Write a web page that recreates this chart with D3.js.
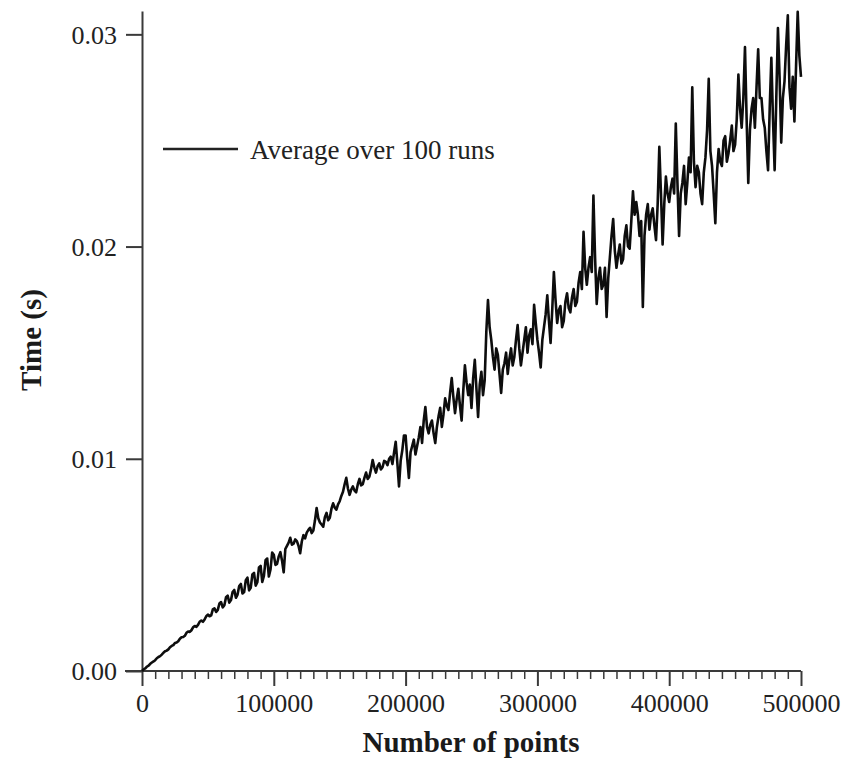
<!DOCTYPE html>
<html>
<head>
<meta charset="utf-8">
<script src="https://cdn.jsdelivr.net/npm/d3@7"></script>
<style>
  html, body { margin: 0; padding: 0; background: #fff; }
  svg { display: block; }
</style>
</head>
<body>
<svg id="chart" width="857" height="760"></svg>
<script>
// ---- Data ----
const xStep = 1250;            // one point every 1250
const xTicks = [0, 100000, 200000, 300000, 400000, 500000];
const yTicks = [0, 0.01, 0.02, 0.03];
const legendLabel = "Average over 100 runs";
const xTitle = "Number of points";
const yTitle = "Time (s)";
const times = [
  0.00000, 0.00008, 0.00012, 0.00021, 0.00025, 0.00034, 0.00040, 0.00045, 0.00051, 0.00060, 0.00066, 0.00070, 0.00077, 0.00086, 0.00093, 0.00096, 0.00102, 0.00112, 0.00118, 0.00122,
  0.00132, 0.00134, 0.00140, 0.00152, 0.00159, 0.00160, 0.00166, 0.00180, 0.00186, 0.00184, 0.00192, 0.00206, 0.00212, 0.00208, 0.00217, 0.00232, 0.00238, 0.00232, 0.00243, 0.00258,
  0.00266, 0.00258, 0.00262, 0.00290, 0.00295, 0.00278, 0.00288, 0.00318, 0.00325, 0.00300, 0.00310, 0.00348, 0.00355, 0.00322, 0.00334, 0.00372, 0.00382, 0.00345, 0.00360, 0.00400,
  0.00410, 0.00365, 0.00372, 0.00428, 0.00440, 0.00380, 0.00392, 0.00455, 0.00462, 0.00402, 0.00418, 0.00488, 0.00495, 0.00420, 0.00448, 0.00522, 0.00530, 0.00445, 0.00478, 0.00558,
  0.00548, 0.00500, 0.00505, 0.00540, 0.00560, 0.00520, 0.00465, 0.00575, 0.00590, 0.00605, 0.00628, 0.00595, 0.00600, 0.00620, 0.00612, 0.00590, 0.00555, 0.00610, 0.00640, 0.00625,
  0.00652, 0.00665, 0.00675, 0.00650, 0.00662, 0.00710, 0.00768, 0.00720, 0.00700, 0.00690, 0.00680, 0.00725, 0.00745, 0.00710, 0.00722, 0.00765, 0.00790, 0.00770, 0.00760, 0.00785,
  0.00800, 0.00825, 0.00845, 0.00880, 0.00910, 0.00860, 0.00830, 0.00855, 0.00870, 0.00850, 0.00842, 0.00880, 0.00905, 0.00875, 0.00880, 0.00910, 0.00935, 0.00905, 0.00915, 0.00950,
  0.00994, 0.00960, 0.00935, 0.00965, 0.00978, 0.00950, 0.00960, 0.00990, 0.00985, 0.00970, 0.01000, 0.01010, 0.00975, 0.01030, 0.01080, 0.00980, 0.00870, 0.00990, 0.01040, 0.01110,
  0.01110, 0.01000, 0.00910, 0.01030, 0.01060, 0.01090, 0.01020, 0.01060, 0.01100, 0.01150, 0.01075, 0.01180, 0.01244, 0.01150, 0.01120, 0.01160, 0.01180, 0.01120, 0.01074, 0.01150,
  0.01200, 0.01240, 0.01150, 0.01210, 0.01285, 0.01250, 0.01230, 0.01310, 0.01380, 0.01290, 0.01215, 0.01280, 0.01330, 0.01250, 0.01180, 0.01320, 0.01440, 0.01360, 0.01300, 0.01350,
  0.01240, 0.01380, 0.01466, 0.01330, 0.01197, 0.01350, 0.01410, 0.01300, 0.01370, 0.01600, 0.01748, 0.01620, 0.01560, 0.01480, 0.01420, 0.01520, 0.01490, 0.01400, 0.01310, 0.01420,
  0.01450, 0.01500, 0.01400, 0.01470, 0.01520, 0.01440, 0.01480, 0.01560, 0.01630, 0.01520, 0.01440, 0.01500, 0.01560, 0.01620, 0.01500, 0.01580, 0.01610, 0.01540, 0.01725, 0.01640,
  0.01560, 0.01500, 0.01430, 0.01560, 0.01620, 0.01680, 0.01770, 0.01650, 0.01546, 0.01700, 0.01880, 0.01750, 0.01640, 0.01700, 0.01720, 0.01620, 0.01650, 0.01740, 0.01780, 0.01710,
  0.01690, 0.01760, 0.01800, 0.01720, 0.01740, 0.01830, 0.01880, 0.01800, 0.02070, 0.01900, 0.01820, 0.01900, 0.01950, 0.01880, 0.02240, 0.01950, 0.01730, 0.01850, 0.01900, 0.01800,
  0.01820, 0.01900, 0.01668, 0.01850, 0.01950, 0.02050, 0.02130, 0.01980, 0.01900, 0.01960, 0.02010, 0.01920, 0.01940, 0.02050, 0.02100, 0.02000, 0.01990, 0.02120, 0.02260, 0.02150,
  0.02210, 0.02150, 0.02050, 0.02120, 0.01715, 0.02050, 0.02150, 0.02200, 0.02080, 0.02150, 0.02180, 0.02100, 0.02030, 0.02200, 0.02470, 0.02250, 0.02010, 0.02200, 0.02330, 0.02250,
  0.02210, 0.02280, 0.02320, 0.02250, 0.02580, 0.02300, 0.02050, 0.02250, 0.02300, 0.02380, 0.02200, 0.02300, 0.02420, 0.02350, 0.02750, 0.02400, 0.02280, 0.02380, 0.02350, 0.02250,
  0.02200, 0.02350, 0.02420, 0.02550, 0.02790, 0.02450, 0.02380, 0.02250, 0.02110, 0.02350, 0.02460, 0.02400, 0.02380, 0.02500, 0.02520, 0.02400, 0.02440, 0.02500, 0.02570, 0.02450,
  0.02480, 0.02600, 0.02810, 0.02650, 0.02560, 0.02700, 0.02940, 0.02600, 0.02300, 0.02550, 0.02650, 0.02700, 0.02560, 0.02750, 0.02930, 0.02700, 0.02700, 0.02600, 0.02560, 0.02450,
  0.02360, 0.02650, 0.02890, 0.02600, 0.02360, 0.02700, 0.03030, 0.02800, 0.02490, 0.02700, 0.02780, 0.02950, 0.03090, 0.02750, 0.02650, 0.02800, 0.02590, 0.02850, 0.03106, 0.02900,
  0.02800
];
const points = times.map((t, i) => ({ n: i * xStep, t }));

// ---- Chart ----
const svg = d3.select("#chart");
const font = "'Liberation Serif', 'Times New Roman', serif";
const axisColor = "#3a3a3a";
const textColor = "#222";

const x = d3.scaleLinear().domain([0, 500000]).range([142, 801]);
const y = d3.scaleLinear().domain([0, 0.0311]).range([671, 11]);

// minor x ticks
const minorTicks = d3.range(0, 500001, 10000).filter(v => v % 100000 !== 0);
const xMinor = svg.append("g").attr("transform", `translate(0,${y(0)})`)
  .call(d3.axisBottom(x).tickValues(minorTicks).tickSize(8).tickFormat(""));
xMinor.select(".domain").remove();
xMinor.selectAll("line").attr("stroke", axisColor).attr("stroke-width", 1.5);

// major x axis
const xAxis = svg.append("g").attr("transform", `translate(0,${y(0)})`)
  .call(d3.axisBottom(x).tickValues(xTicks).tickSize(15).tickSizeOuter(0).tickFormat(d3.format("d")));
xAxis.select(".domain").attr("stroke", axisColor).attr("stroke-width", 2)
  .attr("d", `M${x(0) - 17},0H${x(500000)}`);
xAxis.selectAll("line").attr("stroke", axisColor).attr("stroke-width", 2);
xAxis.selectAll("text").attr("y", 41).attr("dy", null)
  .attr("font-family", font).attr("font-size", 26).attr("fill", textColor);

// y axis
const yAxis = svg.append("g").attr("transform", `translate(${x(0)},0)`)
  .call(d3.axisLeft(y).tickValues(yTicks).tickSize(16).tickSizeOuter(0).tickFormat(d3.format(".2f")));
yAxis.select(".domain").attr("stroke", axisColor).attr("stroke-width", 2);
yAxis.selectAll("line").attr("stroke", axisColor).attr("stroke-width", 2);
yAxis.selectAll("text").attr("x", -25).attr("dy", "0.34em")
  .attr("font-family", font).attr("font-size", 26).attr("fill", textColor);

// data line
const line = d3.line().x(d => x(d.n)).y(d => y(d.t));
svg.append("path").datum(points)
  .attr("d", line)
  .attr("fill", "none")
  .attr("stroke", "#0d0d0d")
  .attr("stroke-width", 2.6)
  .attr("stroke-linejoin", "round");

// legend
svg.append("line").attr("x1", 163).attr("x2", 238).attr("y1", 149).attr("y2", 149)
  .attr("stroke", "#222").attr("stroke-width", 2.5);
svg.append("text").attr("x", 250).attr("y", 159)
  .attr("font-family", font).attr("font-size", 27).attr("fill", textColor)
  .text(legendLabel);

// axis titles
svg.append("text").attr("x", 471).attr("y", 752).attr("text-anchor", "middle")
  .attr("font-family", font).attr("font-size", 29).attr("font-weight", "bold").attr("fill", "#1a1a1a")
  .text(xTitle);
svg.append("text").attr("transform", "translate(41,340) rotate(-90)").attr("text-anchor", "middle")
  .attr("font-family", font).attr("font-size", 29).attr("font-weight", "bold").attr("fill", "#1a1a1a")
  .text(yTitle);
</script>
</body>
</html>
